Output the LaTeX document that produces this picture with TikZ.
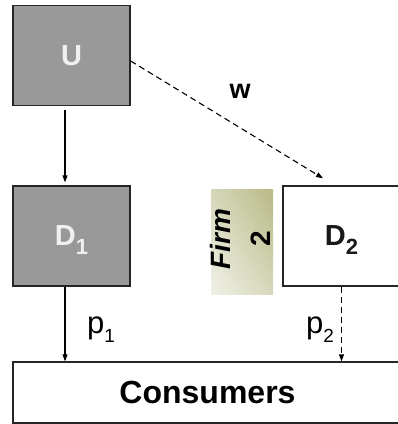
\documentclass[tikz,border=0pt]{standalone}
\usepackage{fontspec}
\setmainfont{Liberation Sans}
\usetikzlibrary{arrows.meta,shadings}
\definecolor{boxgray}{HTML}{999999}
\definecolor{olivedark}{HTML}{B7B985}
\definecolor{olivemid}{HTML}{D6D7BA}
\definecolor{olivelight}{HTML}{F0F1E6}
% lowered index that does not change the height of the line
\newcommand{\idx}[2][22]{\raisebox{-0.3em}[0pt][0pt]{\fontsize{#1}{#1}\selectfont #2}}

\begin{document}
\begin{tikzpicture}[x=1pt,y=-1pt,
  firmbox/.style={draw=black!85, line width=1.4pt, minimum width=117pt, minimum height=100pt, inner sep=0pt, font=\fontsize{29}{34}\selectfont\bfseries},
  leader/.style={firmbox, fill=boxgray, text=white!94!black},
  rival/.style={firmbox, fill=white, text=black!90},
  arrow/.style={-{Triangle[length=7pt,width=5pt]}, line width=1.1pt},
  price/.style={font=\fontsize{31}{34}\selectfont},
]
\useasboundingbox (0,0) rectangle (398,424);

\node[leader] (U) at (71.5,55.5) {U};
\node[leader] (D1) at (71.5,236) {D\idx{1}};
\node[rival] (D2) at (341.5,236) {D\idx{2}};

% tag for the second firm
\node[minimum width=62pt, minimum height=105pt, inner sep=0pt,
  upper right=olivedark, lower left=olivelight, upper left=olivemid, lower right=olivemid] (tag) at (242,241.5) {};
\node[rotate=90, align=center, inner sep=0pt, font=\fontsize{28}{40}\selectfont\bfseries] (firm) at (240.5,239) {\textit{Firm}\\2};

\node[draw=black!85, line width=1.4pt, minimum width=389pt, minimum height=61pt, font=\fontsize{32}{34}\selectfont\bfseries] (cons) at (207.5,392.5) {Consumers};

% wholesale link
\draw[arrow] ([xshift=-6.5pt,yshift=-4pt]U.south) -- ([xshift=-6.5pt,yshift=3pt]D1.north);
\draw[arrow, dash pattern=on 6pt off 4pt] ([yshift=-5.5pt]U.east) -- ([xshift=-18.5pt,yshift=7pt]D2.north);
\node[font=\fontsize{27}{30}\selectfont\bfseries] (w) at (240,91.5) {w};

% retail prices
\coordinate (p1top) at ([xshift=-6.5pt]D1.south);
\draw[arrow] (p1top) -- (p1top |- cons.north);
\draw[arrow, dash pattern=on 6pt off 4pt] (D2.south) -- (D2.south |- cons.north);
\node[price] (p1) at (101,328) {p\idx[19]{1}};
\node[price] (p2) at (320,328) {p\idx[19]{2}};
\end{tikzpicture}
\end{document}
